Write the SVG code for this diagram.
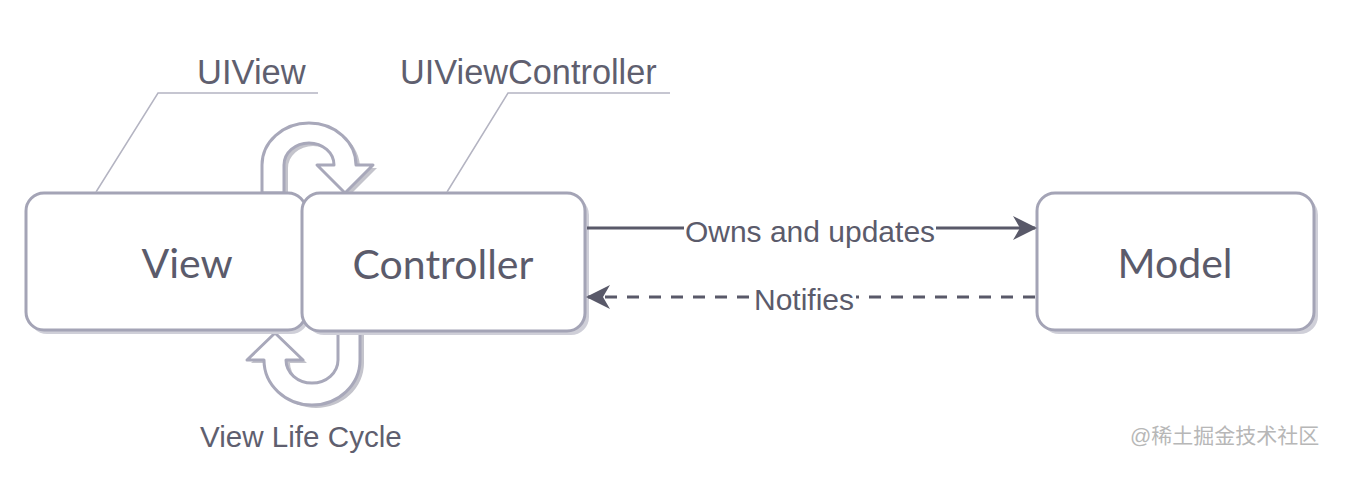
<svg xmlns="http://www.w3.org/2000/svg" width="1349" height="496" viewBox="0 0 1349 496">
<style>
.box{fill:#ffffff;stroke:#a4a4b6;stroke-width:3}
.shadow{fill:#cfcfd8;stroke:none}
.lbl{font-family:Lato,"Liberation Sans",sans-serif;font-size:41px;fill:#5b5b6b;text-anchor:middle}
.note{font-family:"Liberation Sans",Arial,sans-serif;fill:#5f5f6f}
.lead{fill:none;stroke:#b4b4c2;stroke-width:1.5}
.curl{fill:#ffffff;stroke:#a8a8ba;stroke-width:3;stroke-linejoin:round}
.curlsh{fill:#c4c4cc;stroke:none}
.conn{fill:none;stroke:#595969;stroke-width:3}
.elbl{font-family:"Liberation Sans",Arial,sans-serif;font-size:30px;fill:#5b5b6b;text-anchor:middle}
.wm{font-family:"Liberation Sans","Noto Sans CJK SC",sans-serif;font-size:21px;fill:#b7b7b7}
</style>
<defs>
<marker id="ah" viewBox="0 0 24 24" refX="22" refY="12" markerWidth="24" markerHeight="24" markerUnits="userSpaceOnUse" orient="auto">
<path d="M0,0 L24,12 L0,24 L7,12 Z" fill="#595969"/>
</marker>
</defs>
<rect width="1349" height="496" fill="#ffffff"/>

<g id="lifecycle-top">
<path class="curlsh" transform="translate(4,3)" d="M262,193 L262,165 A47,42 0 0 1 356,165 L373,165 L345,193 L317,165 L334,165 A25,22 0 0 0 284,165 L284,193 Z"/>
<path class="curl" d="M262,193 L262,165 A47,42 0 0 1 356,165 L373,165 L345,193 L317,165 L334,165 A25,22 0 0 0 284,165 L284,193 Z"/>
</g>

<g id="lifecycle-bottom">
<path class="curlsh" transform="translate(4,3)" d="M360,331 L360,360 A48,45 0 0 1 264,360 L247,360 L275,333 L303,360 L286,360 A26,23 0 0 0 338,360 L338,331 Z"/>
<path class="curl" d="M360,331 L360,360 A48,45 0 0 1 264,360 L247,360 L275,333 L303,360 L286,360 A26,23 0 0 0 338,360 L338,331 Z"/>
</g>

<g id="view">
<rect class="shadow" x="29" y="197" width="280" height="137" rx="18"/>
<rect class="box" x="26" y="193" width="280" height="137" rx="18"/>
<text class="lbl" x="187" y="278">View</text>
</g>

<g id="controller">
<rect class="shadow" x="306" y="197" width="283" height="138" rx="18"/>
<rect class="box" x="302" y="193" width="283" height="138" rx="18"/>
<text class="lbl" x="443" y="279">Controller</text>
</g>

<g id="model">
<rect class="shadow" x="1041" y="197" width="277" height="137" rx="18"/>
<rect class="box" x="1037" y="193" width="277" height="137" rx="18"/>
<text class="lbl" x="1175" y="278">Model</text>
</g>

<g id="uiview-label">
<polyline class="lead" points="96,192 158,93 318,93"/>
<text class="note" x="197" y="84" font-size="34.5">UIView</text>
</g>

<g id="uiviewcontroller-label">
<polyline class="lead" points="447,192 508,93 670,93"/>
<text class="note" x="400" y="84" font-size="34.3">UIViewController</text>
</g>

<g id="connectors">
<line class="conn" x1="587" y1="228" x2="1035" y2="228" marker-end="url(#ah)"/>
<rect x="684" y="214" width="252" height="30" fill="#ffffff"/>
<text class="elbl" x="810" y="242">Owns and updates</text>
<line class="conn" x1="1035" y1="297" x2="588" y2="297" stroke-dasharray="12 10" marker-end="url(#ah)"/>
<rect x="752" y="283" width="104" height="30" fill="#ffffff"/>
<text class="elbl" x="804" y="310">Notifies</text>
</g>

<text class="note" x="200" y="447" font-size="29.6">View Life Cycle</text>
<text class="wm" x="1130" y="443">@稀土掘金技术社区</text>
</svg>
